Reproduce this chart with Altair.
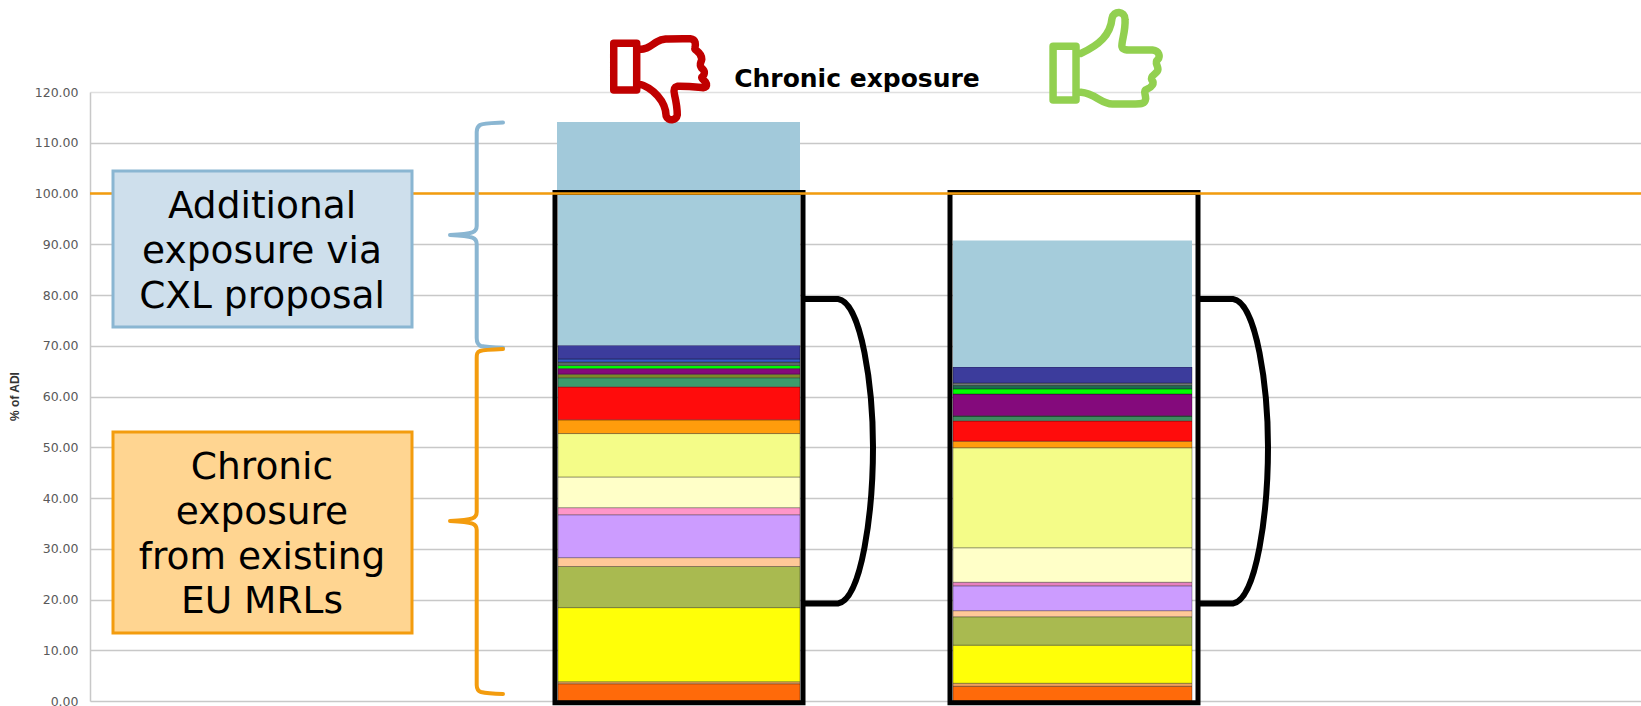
import re

import altair as alt
import pandas as pd

# Plot geometry used to place annotations given in page pixels
LEFT, TOP, PLOT_W, PLOT_H = 90, 92, 1551, 609
Y_MAX = 120


def val(py):
    """Convert a page pixel row to a % of ADI value."""
    return (TOP + PLOT_H - py) * Y_MAX / PLOT_H


def px(x):
    """Convert a page pixel column to the horizontal plot scale."""
    return x - LEFT


# Commodity contributions, bottom to top, as % of ADI
colors_current = ["#FF6A0A", "#E8A55A", "#FFFF08", "#A9BA50", "#FFC898", "#CC9CFF", "#FF96C8",
                  "#FFFFC8", "#F4FC88", "#FF9C0C", "#FF0C0C", "#3C9C6C", "#7C8A28", "#840A7C",
                  "#00FF00", "#5A6A6A", "#3A5AC8", "#3C3C9C", "#A5CCDB"]
colors_lower = ["#FF6A0A", "#F0A060", "#FFFF08", "#A9BA50", "#FFC898", "#CC9CFF", "#E880C0",
                "#FFFFC8", "#F4FC88", "#FF9C0C", "#FF0C0C", "#3F8A60", "#7C8A70", "#840A7C",
                "#00FF00", "#1F6A50", "#75807F", "#3C3C9C", "#A5CCDB"]
current_mrls = [3.4, 0.4, 14.6, 8.1, 1.75, 8.45, 1.4, 6.05, 8.55, 2.7, 6.5, 1.8, 0.7, 1.1,
                0.6, 0.7, 0.6, 2.7, 29.9]
lower_mrls = [2.9, 0.6, 7.5, 5.6, 1.2, 4.9, 0.7, 6.8, 19.7, 1.3, 4.0, 0.95, 0.05, 4.3,
              1.0, 0.7, 0.45, 3.15, 24.95]
excess_above_adi = 14.1
excess_color = "#A2C9DA"

# Horizontal extents of the two columns and their outlines
col_left = [558, 953]
col_right = [800, 1192]
frame_left = [555, 950]
frame_right = [803, 1198]
frame_top = 100.2
frame_bottom = -0.35

y_ticks = [0, 10, 20, 30, 40, 50, 60, 70, 80, 90, 100, 110, 120]

boxes = [
    {"x": 113, "x2": 412, "y": 171, "y2": 327, "fill": "#CEDFEC", "stroke": "#8AB6D2"},
    {"x": 113, "x2": 412, "y": 432, "y2": 633, "fill": "#FFD591", "stroke": "#F39C0E"},
]
box_lines = [
    ("Additional", 218), ("exposure via", 263), ("CXL proposal", 308),
    ("Chronic", 479), ("exposure", 524), ("from existing", 569), ("EU MRLs", 613),
]

# Outline shapes as SVG paths in page pixels
brace_blue = ("M503 122.5 C490 123 483 123 480 125 C477 127 476.7 129 476.7 132 L476.7 226 "
              "C476.7 232 474 234 450 235 C474 236 476.7 238 476.7 244 L476.7 338 "
              "C476.7 343 478 345 481 346 C485 347 492 347.5 503 347.7")
brace_orange = ("M503 349 C490 349.5 483 350 480 351 C477 352 476.7 354 476.7 358 L476.7 512 "
                "C476.7 518 474 520 450 521 C474 522 476.7 524 476.7 530 L476.7 685 "
                "C476.7 689 478 691 481 692 C485 693 492 693.7 503 694")
bracket_left = "M804 299 L838 299 C862 302 873 390 873 447 C873 510 862 600 838 603.5 L804 603.5"
bracket_right = "M1199 299 L1233 299 C1257 302 1268 390 1268 447 C1268 510 1257 600 1233 603.5 L1199 603.5"

# Thumb icons are drawn on a finer grid and mapped onto the page below
thumb_down_grid = ("M62 130 L122 130 L122 270 L62 270 Z "
                   "M125 148 C150 150 160 135 175 125 C190 115 200 116 262 116 C278 118 276 135 274 145 "
                   "C272 152 292 155 292 178 C290 190 284 192 292 205 C302 212 300 225 292 232 "
                   "C290 238 310 245 303 260 C296 268 285 258 228 259 C218 262 218 270 221 285 "
                   "C226 310 228 325 228 345 C226 362 204 365 199 348 "
                   "C198 305 165 262 125 251")
thumb_up_grid = ("M1210 139 L1270 139 L1270 300 L1210 300 Z "
                 "M1283 160 C1330 135 1360 105 1364 55 C1368 30 1398 32 1398 58 "
                 "C1400 95 1388 125 1390 140 C1392 150 1402 150 1412 150 L1470 150 "
                 "C1488 152 1490 170 1484 178 C1474 188 1484 195 1484 208 C1484 222 1462 225 1468 240 "
                 "C1476 250 1468 262 1455 268 C1444 272 1452 282 1452 296 C1450 312 1440 312 1425 312 "
                 "L1365 312 C1335 312 1320 280 1283 277")


def grid_to_page(path):
    """Map a path from the icon grid to page pixels."""
    def convert(match):
        x, y = float(match.group(1)), float(match.group(2))
        return f"{590 + x / 2.613:.2f} {y / 3:.2f}"
    return re.sub(r"(\d+(?:\.\d+)?) (\d+(?:\.\d+)?)", convert, path)


def stacked(values, palette, column):
    rows, base = [], 0.0
    for order, (v, c) in enumerate(zip(values, palette)):
        rows.append({"x": px(col_left[column]), "x2": px(col_right[column]),
                     "y": base, "y2": base + v, "color": c, "order": order,
                     "edge": 0.0 if order == len(values) - 1 else 0.32})
        base += v
    return rows


segments = pd.DataFrame(stacked(current_mrls, colors_current, 0) + stacked(lower_mrls, colors_lower, 1))
excess = pd.DataFrame([{"x": px(557), "x2": px(800), "y": 100.0, "y2": 100.0 + excess_above_adi}])
frames = pd.DataFrame([
    {"x": px(frame_left[i]), "x2": px(frame_right[i]), "y": frame_bottom, "y2": frame_top}
    for i in range(2)
])
box_df = pd.DataFrame([
    {"x": px(b["x"]), "x2": px(b["x2"]), "y": val(b["y"]), "y2": val(b["y2"]),
     "fill": b["fill"], "stroke": b["stroke"]}
    for b in boxes
])
text_df = pd.DataFrame([{"x": px(262), "y": val(py), "text": t} for t, py in box_lines])
heading_df = pd.DataFrame([{"x": px(857), "y": val(86.5), "text": "Chronic exposure"}])

x_scale = alt.Scale(domain=[0, PLOT_W], range=[0, PLOT_W], nice=False, zero=False)
y_scale = alt.Scale(domain=[0, Y_MAX], nice=False)
X = alt.X("x:Q", scale=x_scale, axis=None)
Y = alt.Y(
    "y:Q",
    scale=y_scale,
    axis=alt.Axis(
        values=y_ticks,
        format=".2f",
        title="% of ADI",
        titleFont="Liberation Sans",
        titleFontWeight="bold",
        titleFontSize=12,
        titleColor="#333333",
        titleX=-69,
        titleY=304,
        titleAngle=270,
        titleAlign="center",
        labelFont="DejaVu Sans",
        labelFontSize=12.5,
        labelColor="#595959",
        labelPadding=12,
        ticks=False,
        domain=True,
        domainColor="#C8C8C8",
        domainWidth=1.5,
        grid=True,
        gridColor={"condition": {"test": "datum.value === 120", "value": "#E0E0E0"}, "value": "#C8C8C8"},
        gridWidth=1.4,
    ),
)

bars = (
    alt.Chart(segments)
    .mark_rect(stroke="#000000", strokeWidth=1)
    .encode(
        x=X, x2="x2:Q", y=Y, y2="y2:Q",
        fill=alt.Fill("color:N", scale=None),
        strokeOpacity=alt.StrokeOpacity("edge:Q", scale=None),
        order="order:Q",
    )
)
excess_bar = (
    alt.Chart(excess).mark_rect(fill=excess_color).encode(x=X, x2="x2:Q", y=Y, y2="y2:Q")
)
frame_marks = (
    alt.Chart(frames)
    .mark_rect(fillOpacity=0, stroke="#000000", strokeWidth=5)
    .encode(x=X, x2="x2:Q", y=Y, y2="y2:Q")
)
adi_line = (
    alt.Chart(pd.DataFrame({"y": [100.0], "x": [0], "x2": [PLOT_W]}))
    .mark_rule(color="#F39C0E", strokeWidth=2.5)
    .encode(x=X, x2="x2:Q", y=Y)
)
box_marks = (
    alt.Chart(box_df)
    .mark_rect(strokeWidth=3)
    .encode(
        x=X, x2="x2:Q", y=Y, y2="y2:Q",
        fill=alt.Fill("fill:N", scale=None),
        stroke=alt.Stroke("stroke:N", scale=None),
    )
)
box_text = (
    alt.Chart(text_df)
    .mark_text(font="DejaVu Sans", fontSize=37.5, color="#000000", align="center", baseline="alphabetic")
    .encode(x=X, y=Y, text="text:N")
)
heading = (
    alt.Chart(heading_df)
    .mark_text(font="DejaVu Sans", fontWeight="bold", fontSize=25, color="#000000",
               align="center", baseline="alphabetic")
    .encode(x=X, y=Y, text="text:N")
)


def outline(path, color, width):
    # Unit size 4 makes one path unit one pixel; the origin sits at the page corner
    return (
        alt.Chart(pd.DataFrame({"k": [0]}))
        .mark_point(shape=path, size=4, filled=False, stroke=color, strokeWidth=width,
                    opacity=1, strokeCap="round", strokeJoin="round")
        .encode(x=alt.value(-LEFT), y=alt.value(-TOP))
    )


shapes = [
    outline(brace_blue, "#8AB6D2", 4),
    outline(brace_orange, "#F39C0E", 4),
    outline(bracket_left, "#000000", 6),
    outline(bracket_right, "#000000", 6),
    outline(grid_to_page(thumb_down_grid), "#C00000", 7.5),
    outline(grid_to_page(thumb_up_grid), "#92D050", 7.5),
]

chart = (
    alt.layer(bars, excess_bar, frame_marks, adi_line, box_marks, box_text, heading, *shapes)
    .properties(
        width=PLOT_W,
        height=PLOT_H,
        padding={"left": LEFT, "top": TOP, "right": 0, "bottom": 7},
        autosize="none",
    )
    .configure_view(stroke=None)
)

chart.save("out.html", embed_options={"renderer": "svg", "actions": False})
